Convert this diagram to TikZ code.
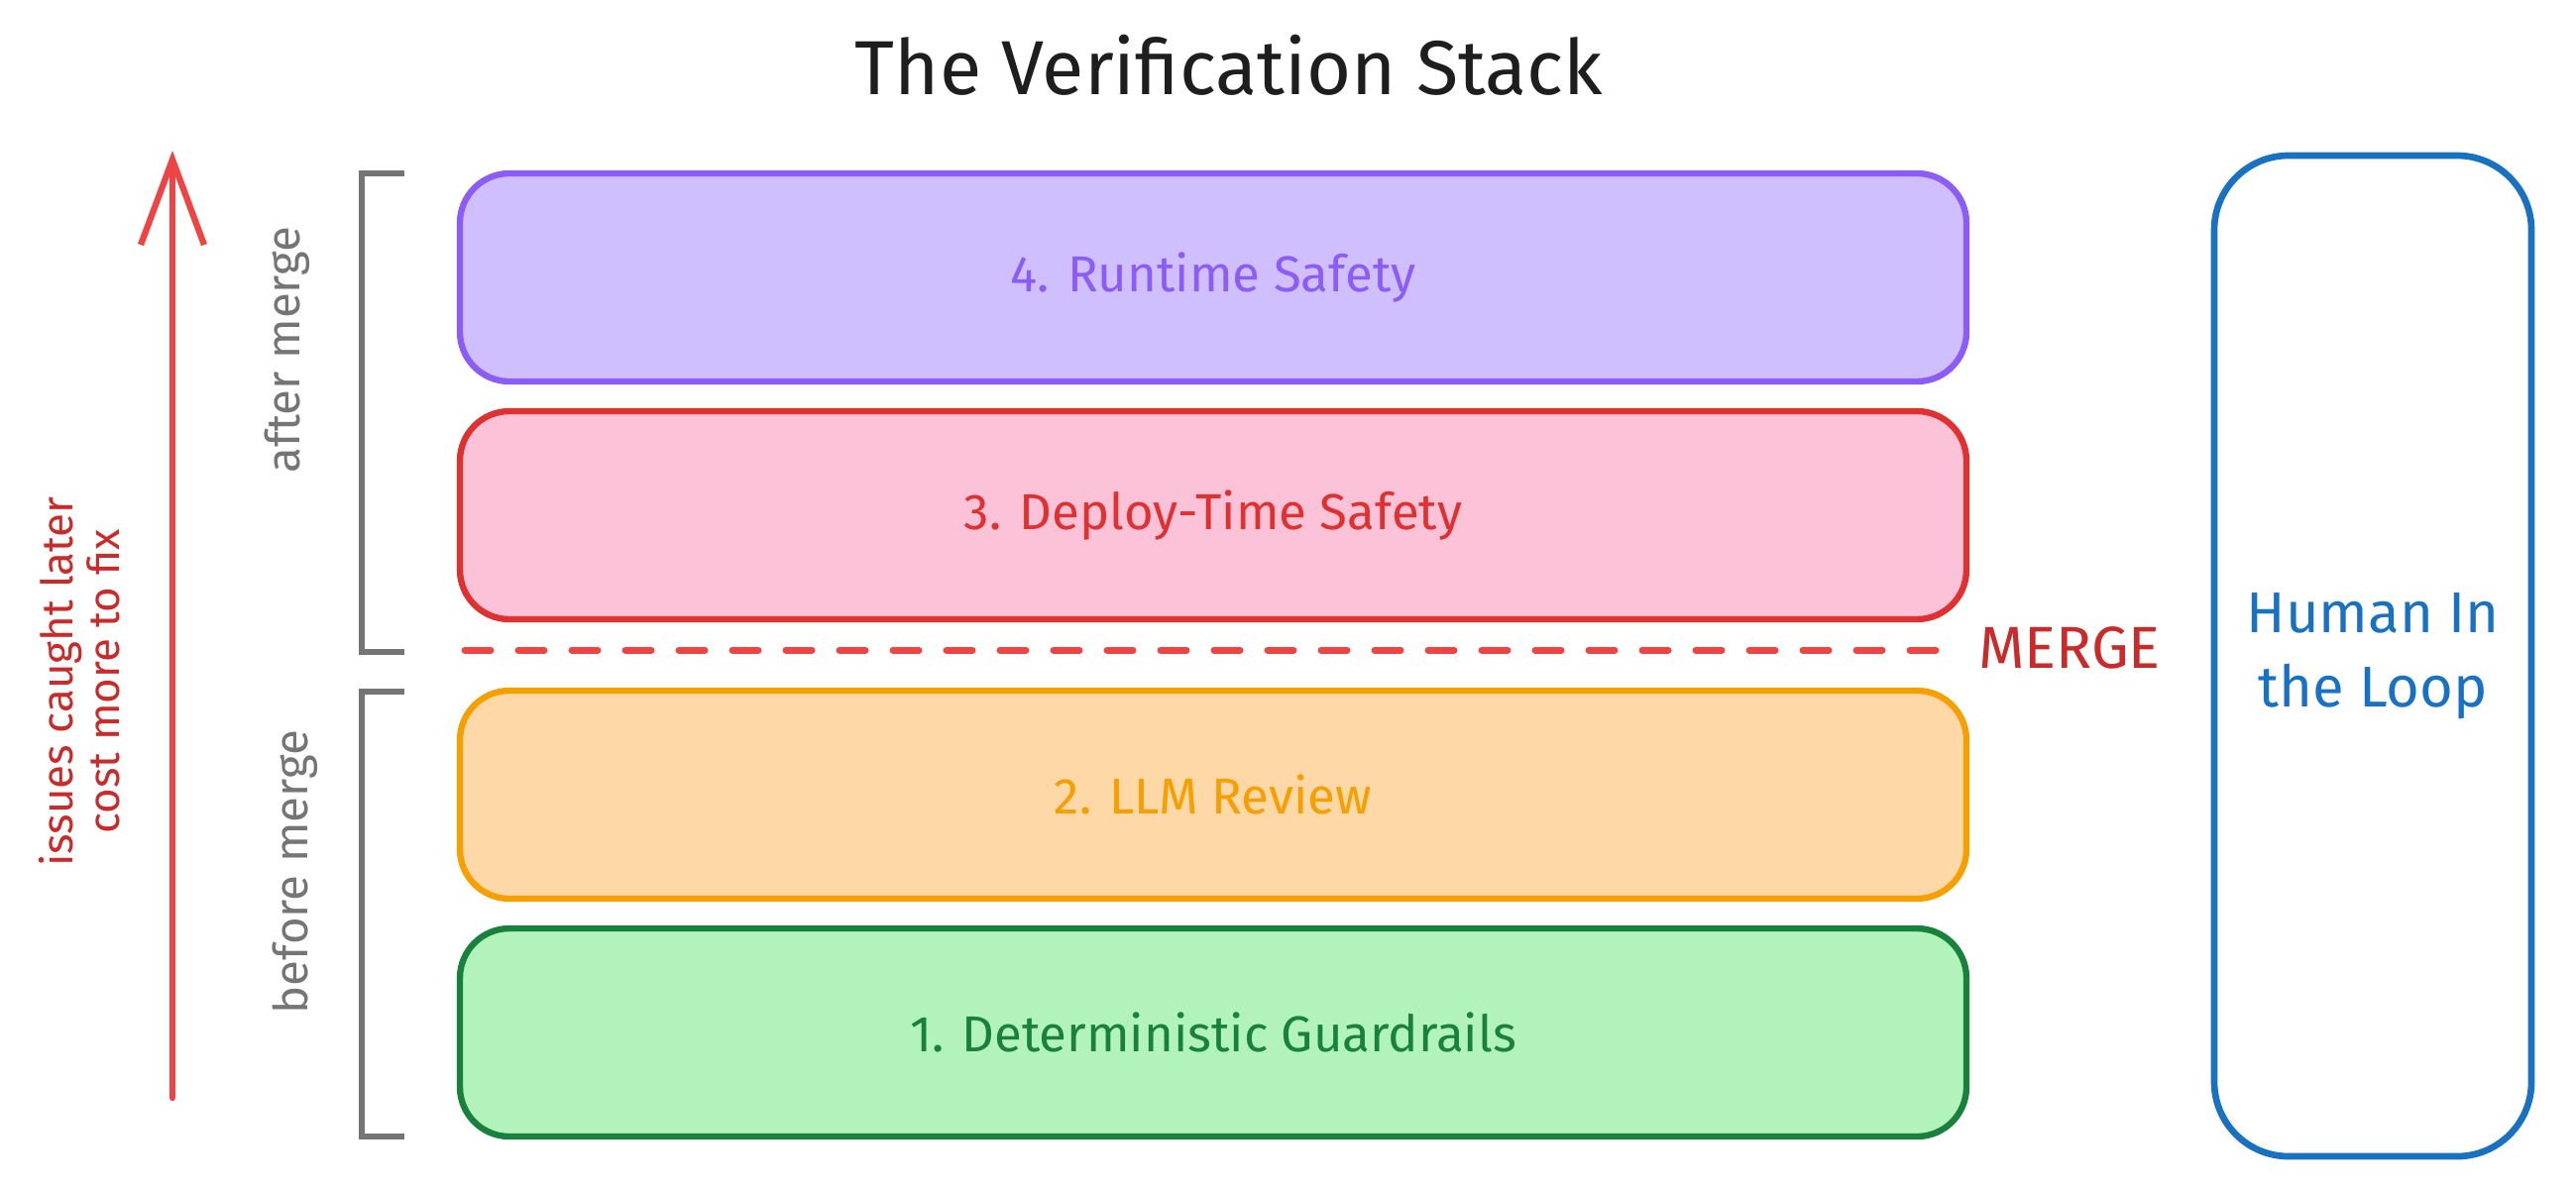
\documentclass[tikz,border=0pt]{standalone}
\usepackage{fontspec}
\setmainfont{Fira Sans}
\usetikzlibrary{arrows.meta}
\definecolor{violetline}{HTML}{8B5CF6}
\definecolor{violetfill}{HTML}{D0BFFF}
\definecolor{redline}{HTML}{E03131}
\definecolor{redfill}{HTML}{FCC2D7}
\definecolor{orangeline}{HTML}{F59F00}
\definecolor{orangefill}{HTML}{FFD8A8}
\definecolor{greenline}{HTML}{18813B}
\definecolor{greenfill}{HTML}{B2F2BB}
\definecolor{loopblue}{HTML}{1971C2}
\definecolor{arrowred}{HTML}{EF4444}
\definecolor{darkred}{HTML}{C92A2A}
\definecolor{bracketgray}{HTML}{757575}
\definecolor{titleblack}{HTML}{1E1E1E}

\begin{document}
\begin{tikzpicture}[
    layer/.style={draw, rounded corners=0.5cm, minimum width=15.2cm, minimum height=2.1cm, line width=1.8pt, font=\fontsize{14.5}{17}\selectfont},
    bracket/.style={draw=bracketgray, line width=1.7pt},
    sidelabel/.style={rotate=90, text=bracketgray, font=\fontsize{13.5}{15}\selectfont}
]
                \useasboundingbox (0,0) rectangle (25.99,-12);

                \node[font=\fontsize{22}{25}\selectfont, text=titleblack] (title) at (12.4,-0.66) {The Verification Stack};

                % the four layers, top to bottom
                \node[layer, draw=violetline, fill=violetfill, text=violetline] (runtime) at (12.24,-2.8) {4. Runtime Safety};
                \node[layer, draw=redline, fill=redfill, text=redline] (deploy) at (12.24,-5.2) {3. Deploy-Time Safety};
                \node[layer, draw=orangeline, fill=orangefill, text=orangeline] (llm) at (12.24,-8.02) {2. LLM Review};
                \node[layer, draw=greenline, fill=greenfill, text=greenline] (guard) at (12.24,-10.42) {1. Deterministic Guardrails};

                % merge line
                \coordinate (mergestart) at (4.69,-6.56);
                \coordinate (mergeend) at (19.72,-6.56);
                \node[font=\fontsize{17}{19}\selectfont, text=darkred] (merge) at (20.88,-6.54) {MERGE};
                \draw[arrowred, line width=2pt, line cap=round, dash pattern=on 0.26cm off 0.28cm] (mergestart) -- (mergeend);

                % human in the loop
                \node[draw=loopblue, line width=1.9pt, rounded corners=0.75cm, minimum width=3.2cm, minimum height=10.1cm, text=loopblue, align=center, font=\fontsize{16.5}{21.5}\selectfont] (human) at (23.94,-6.62) {Human In\\the Loop};

                % brackets
                \draw[bracket] (4.08,-1.75) -| (3.65,-6.58) -- (4.08,-6.58);
                \draw[bracket] (4.08,-6.98) -| (3.65,-11.47) -- (4.08,-11.47);
                \node[sidelabel] (after) at (2.9,-3.53) {after merge};
                \node[sidelabel] (before) at (2.98,-8.8) {before merge};

                % cost arrow
                \coordinate (arrowbot) at (1.74,-11.08);
                \coordinate (arrowtop) at (1.74,-1.52);
                \draw[arrowred, line width=1.8pt, line cap=round, line join=round, -{Straight Barb[length=0.86cm, width=0.64cm]}] (arrowbot) -- (arrowtop);
                \node[rotate=90, text=darkred, align=center, font=\fontsize{12.5}{13.5}\selectfont] (cost) at (0.8,-6.88) {issues caught later\\cost more to fix};
            \end{tikzpicture}
\end{document}
